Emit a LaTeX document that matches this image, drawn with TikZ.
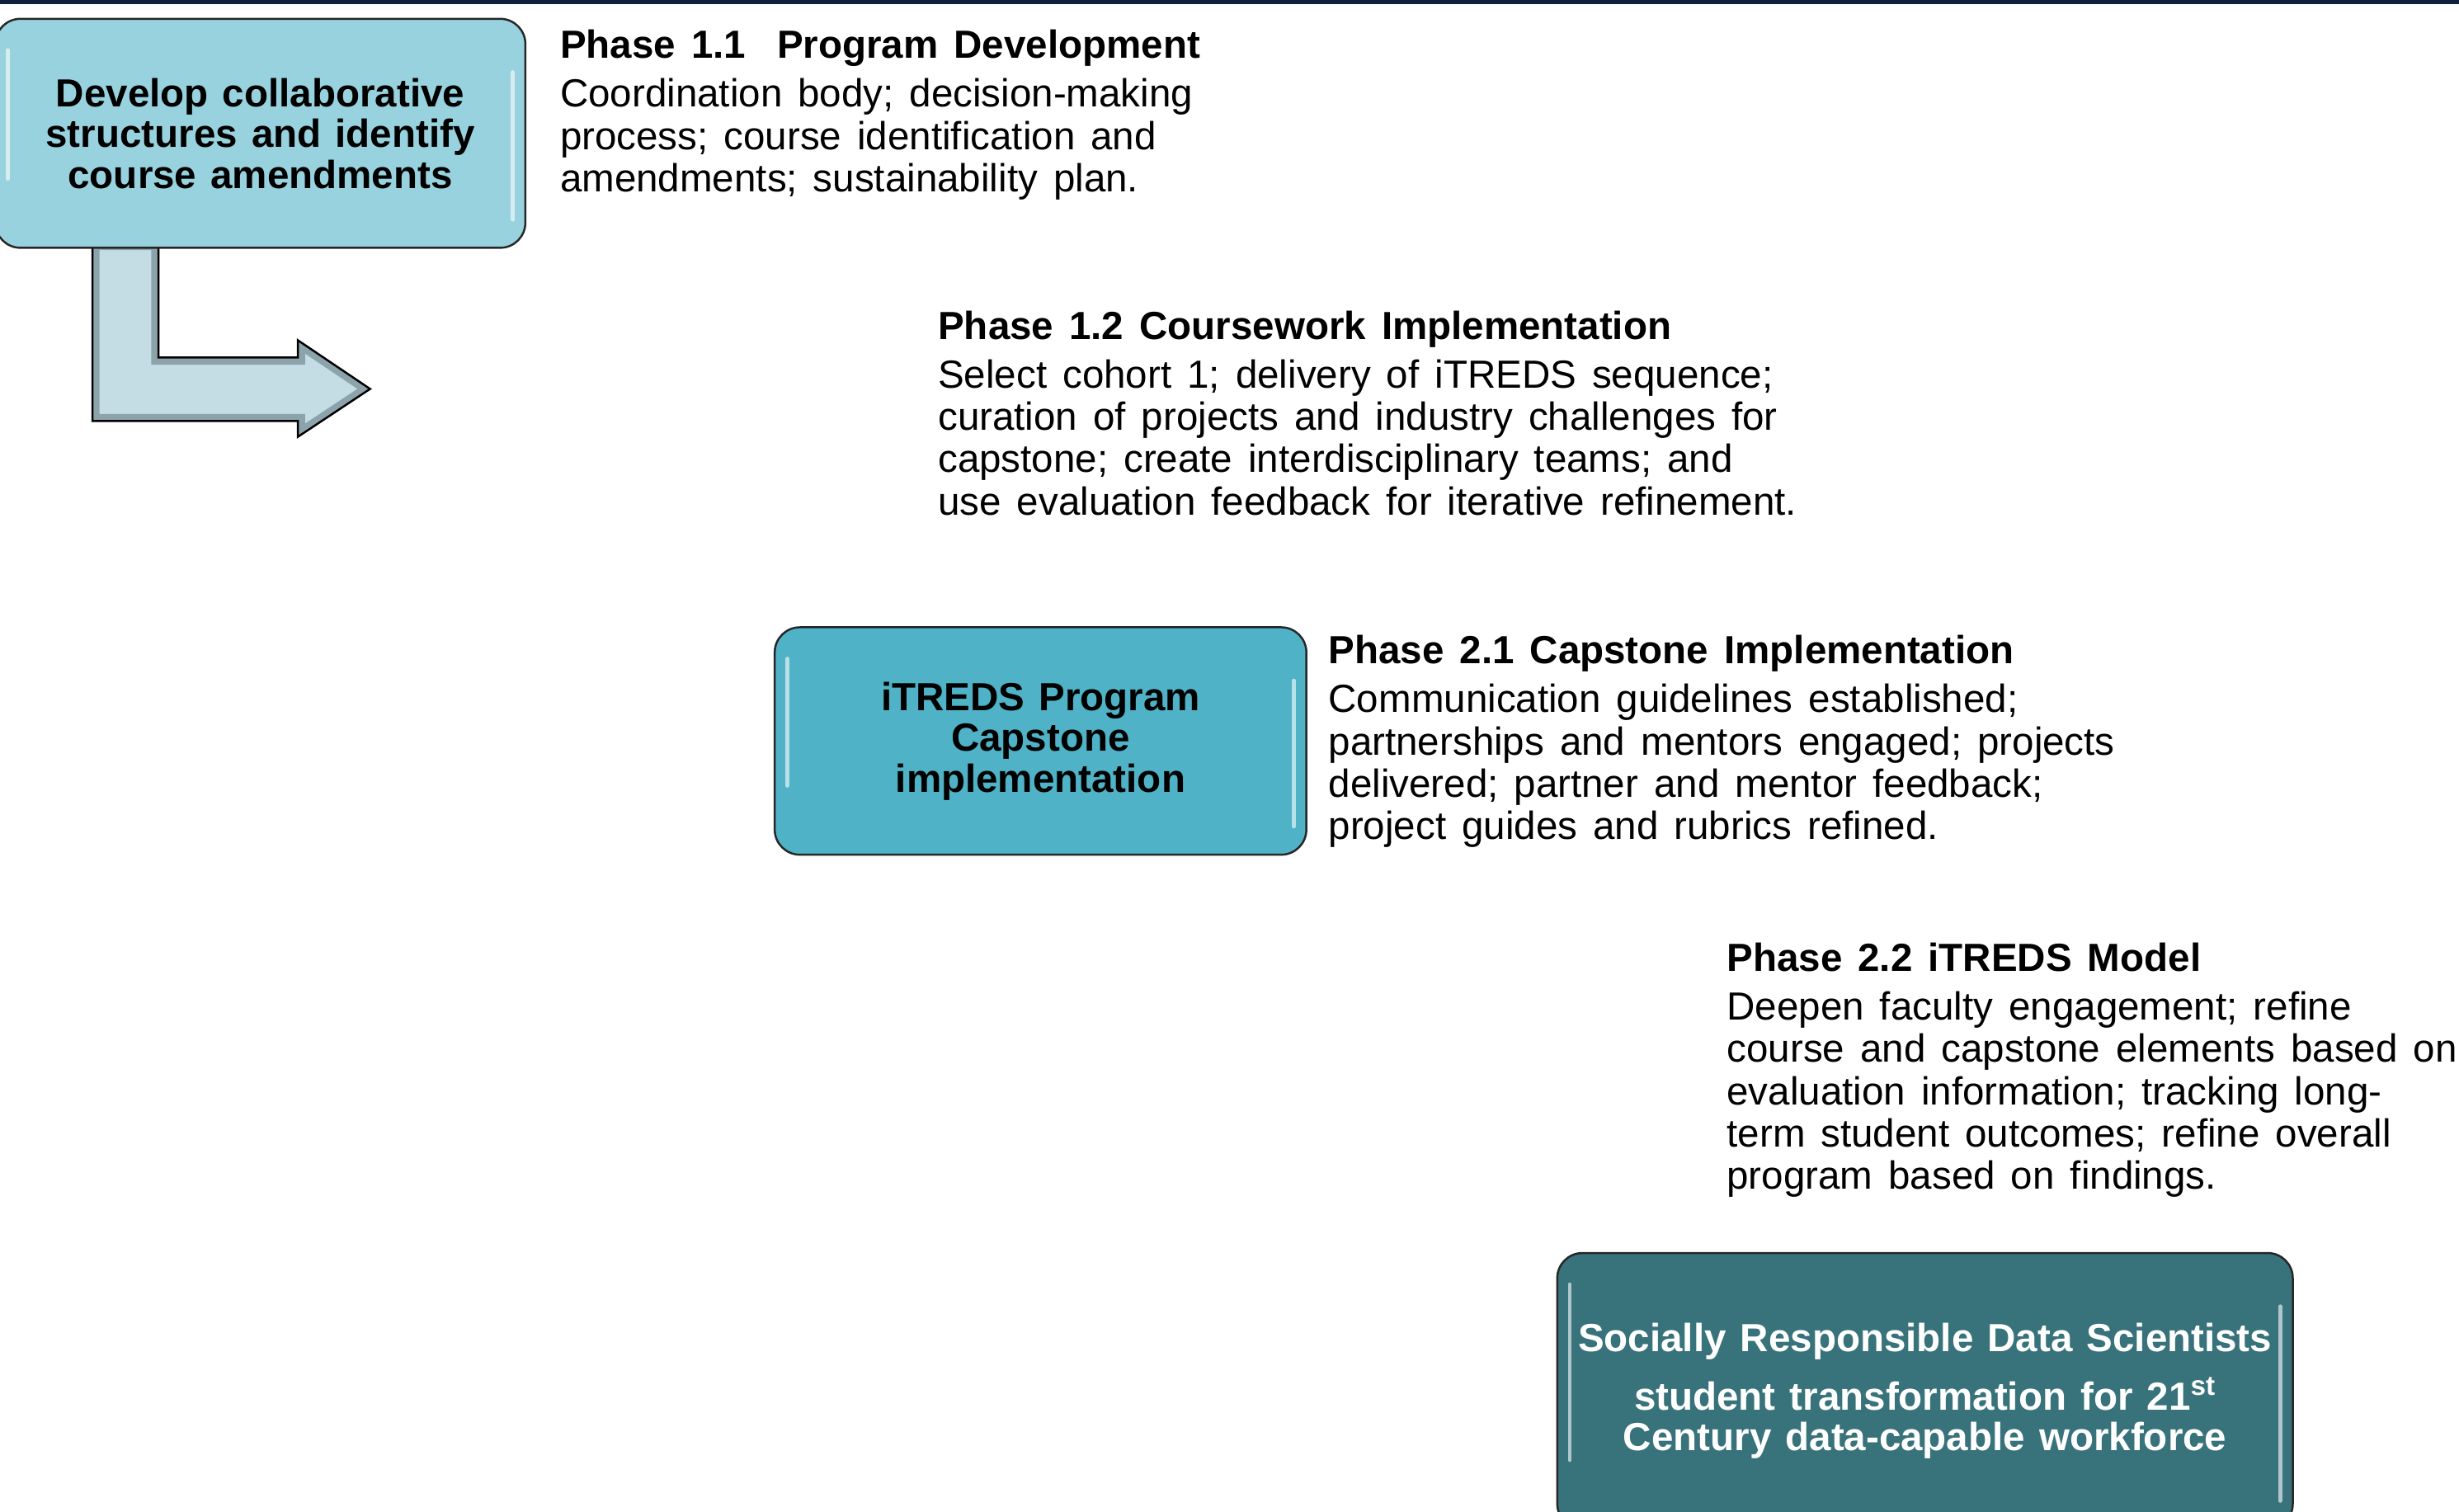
\documentclass[tikz,border=0pt]{standalone}
\usepackage{fontspec}
\setmainfont{Liberation Sans}
\usepackage{tikz}
\usetikzlibrary{positioning}

\definecolor{topband}{RGB}{15,32,61}
\definecolor{lightbox}{RGB}{152,210,222}
\definecolor{midbox}{RGB}{79,178,198}
\definecolor{darkbox}{RGB}{56,115,124}
\definecolor{arrowfill}{RGB}{196,221,229}
\definecolor{arrowedge}{RGB}{140,163,171}

\newcommand{\boxfont}{\fontsize{25}{26}\selectfont\bfseries\spaceskip=.36em\relax}
\newcommand{\phasefont}{\fontsize{25}{27}\selectfont\spaceskip=.4em\relax}
\newcommand{\bentpath}{(59,155) -- ++(0,113.5) -- ++(131,0) -- ++(0,10) -- (bendtip)
	-- ++(-46,-31) -- ++(0,11) -- ++(-89,0) -- ++(0,-73) -- cycle}

\tikzset{
	stagebox/.style={draw=black!85, line width=1.3pt, rounded corners=16pt,
		align=center, font=\boxfont,
		path picture={
			\draw[white, line width=2.5pt, opacity=.6, line cap=round]
			([xshift=8pt,yshift=-20pt]path picture bounding box.north west) --
			([xshift=8pt,yshift=44pt]path picture bounding box.south west);
			\draw[white, line width=2.5pt, opacity=.6, line cap=round]
			([xshift=-8pt,yshift=-34pt]path picture bounding box.north east) --
			([xshift=-8pt,yshift=18pt]path picture bounding box.south east);
		}},
	phasetext/.style={anchor=north west, inner sep=0pt, align=left, font=\phasefont},
	bentarrow/.style={draw=black, line width=1.3pt, line join=miter}
}

\begin{document}
\begin{tikzpicture}[x=1pt, y=-1pt]
	\useasboundingbox (0,0) rectangle (1568,964);
	
	% Dark band along the top
	\fill[topband] (0,0) rectangle (1568,2.7);
	
	% Bent arrow out of the first box
	\coordinate (bendtip) at (236,248);
	\begin{scope}
		\clip \bentpath;
		\fill[arrowfill] \bentpath;
		\draw[arrowedge, line width=9pt, line join=miter] \bentpath;
	\end{scope}
	\draw[bentarrow] \bentpath;
	
	% Boxes
	\node[stagebox, fill=lightbox, minimum width=338pt, minimum height=146pt] (develop)
	at (166,85) {Develop collaborative\\structures and identify\\course amendments};
	\node[stagebox, fill=midbox, minimum width=339pt, minimum height=145pt] (capstone)
	at (663.5,472.5) {iTREDS Program\\Capstone\\implementation};
	\node[stagebox, fill=darkbox, text=white, minimum width=469pt, minimum height=176pt] (scientists)
	at (1227.5,887) {Socially Responsible Data Scientists\\[11pt]
		student transformation for 21\textsuperscript{st}\\Century data-capable workforce};
	
	% Phase descriptions
	\node[phasetext] (phase11) at (357,19) {\textbf{Phase 1.1\ \ Program Development}\\[4pt]
		Coordination body; decision-making\\
		process; course identification and\\
		amendments;\ sustainability plan.};
	\node[phasetext] (phase12) at (598,198) {\textbf{Phase 1.2 Coursework Implementation}\\[4pt]
		Select cohort 1; delivery of iTREDS sequence;\\
		curation of projects and industry challenges for\\
		capstone; create interdisciplinary teams; and\\
		use evaluation feedback for iterative refinement.};
	\node[phasetext] (phase21) at (847,405) {\textbf{Phase 2.1 Capstone Implementation}\\[4pt]
		Communication guidelines established;\\
		partnerships and mentors engaged; projects\\
		delivered; partner and mentor feedback;\\
		project guides and rubrics refined.};
	\node[phasetext] (phase22) at (1101,601) {\textbf{Phase 2.2 iTREDS Model}\\[4pt]
		Deepen faculty engagement; refine\\
		course and capstone elements based on\\
		evaluation information; tracking long-\\
		term student outcomes; refine overall\\
		program based on findings.};
\end{tikzpicture}
\end{document}
